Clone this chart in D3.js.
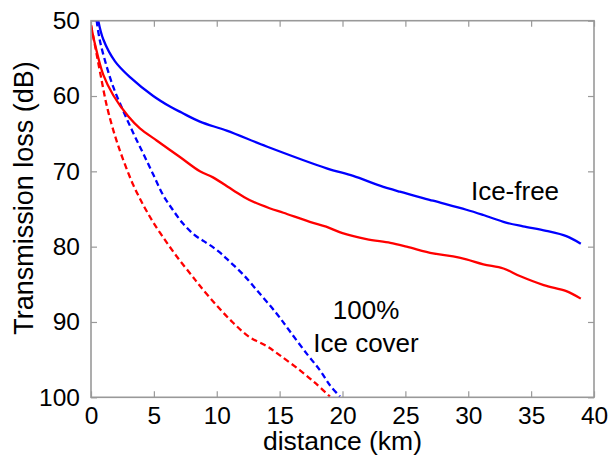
<!DOCTYPE html>
<html><head><meta charset="utf-8">
<script src="https://cdn.jsdelivr.net/npm/d3@7"></script>
<style>body{margin:0;background:#fff}svg{display:block}text{font-family:"Liberation Sans",Arial,sans-serif;fill:#000}</style>
</head><body>
<svg id="c" width="609" height="458"></svg>
<script>
const xTicks = [0,5,10,15,20,25,30,35,40];
const yTicks = [50,60,70,80,90,100];

const iceFreeD  = [0.58,0.98,1.91,3.1,4.95,6.28,7.2,8.66,10.79,13.97,18.74,20.85,22.97,24.56,27.2,29.85,31.2,33.0,34.35,36.2,37.8,38.95];
const iceFreeBlue = [50,52.5,55.4,57.5,60.0,61.4,62.2,63.4,64.6,66.7,69.6,70.6,71.9,72.7,73.9,75.1,75.8,76.8,77.3,77.9,78.6,79.6];

const iceFreeRedD = [0,0.3,0.98,1.77,2.96,3.89,5.22,7.07,8.66,9.7,11.3,12.6,14.2,15.3,17.4,18.7,20.0,21.9,23.8,25.1,27.2,28.8,29.85,31.2,32.8,34.1,36.0,37.8,38.95];
const iceFreeRed  = [50.6,53,57.2,59.9,62.7,64.3,65.9,68.1,70.0,70.8,72.5,73.8,74.9,75.5,76.7,77.35,78.2,79.0,79.5,80.0,80.9,81.3,81.7,82.35,82.9,83.9,85.1,85.9,86.9];

const iceBlueD = [0.45,0.7,1.25,1.77,2.57,3.36,4.2,5.0,5.75,6.5,7.3,8.2,9.0,9.72,10.4,11.04,12.1,13.4,14.77,15.8,17.15,18.2,19.0,19.8];
const iceBlue  = [50,52.6,56.1,58.8,62.0,64.9,67.8,70.6,73.2,75.1,76.9,78.4,79.3,80.1,81.0,82.0,83.7,86.2,88.9,91.2,94.2,96.4,98.4,99.9];

const iceRedD = [0,0.34,0.74,1.27,1.93,2.57,3.36,4.2,5.0,6.0,7.0,8.0,8.66,9.99,11.3,12.6,13.97,15.0,16.6,17.9,19.0];
const iceRed  = [50.6,53.5,57,61.4,65.4,68.5,71.8,74.6,76.9,79.4,81.7,83.8,85.2,87.8,90.1,92.0,93.2,94.4,96.4,98.2,99.9];

const svg = d3.select("#c");
const L=91, R=594, T=20.7, B=397.3;
const x = d3.scaleLinear().domain([0,40]).range([L,R]);
const y = d3.scaleLinear().domain([50,100]).range([T,B]);

const axCol = "#999";
const fs = 24.5;
const tk = 6;
const g = svg.append("g");
g.append("g").attr("transform",`translate(0,${B})`)
  .call(d3.axisBottom(x).tickValues(xTicks).tickSize(-tk).tickPadding(tk+3).tickFormat(d3.format("d")))
  .call(a=>{a.select(".domain").remove();a.selectAll("line").attr("stroke",axCol).attr("stroke-width",1.2);
    a.selectAll("text").attr("font-size",fs).attr("fill","#000").attr("font-family","Liberation Sans, Arial, sans-serif");});
g.append("g").attr("transform",`translate(0,${T})`)
  .call(d3.axisTop(x).tickValues(xTicks).tickSize(-tk).tickFormat(""))
  .call(a=>{a.select(".domain").remove();a.selectAll("line").attr("stroke",axCol).attr("stroke-width",1.2);});
g.append("g").attr("transform",`translate(${L},0)`)
  .call(d3.axisLeft(y).tickValues(yTicks).tickSize(-tk).tickPadding(tk+5).tickFormat(d3.format("d")))
  .call(a=>{a.select(".domain").remove();a.selectAll("line").attr("stroke",axCol).attr("stroke-width",1.2);
    a.selectAll("text").attr("font-size",fs).attr("fill","#000").attr("font-family","Liberation Sans, Arial, sans-serif");});
g.append("g").attr("transform",`translate(${R},0)`)
  .call(d3.axisRight(y).tickValues(yTicks).tickSize(-tk).tickFormat(""))
  .call(a=>{a.select(".domain").remove();a.selectAll("line").attr("stroke",axCol).attr("stroke-width",1.2);});

const clipId="clp";
svg.append("clipPath").attr("id",clipId).append("rect").attr("x",L).attr("y",T).attr("width",R-L).attr("height",B-T);
const line = d3.line().x(d=>x(d[0])).y(d=>y(d[1])).curve(d3.curveCatmullRom.alpha(0.5));
function draw(xs, ys, col, dash){
  svg.append("path").datum(xs.map((v,i)=>[v,ys[i]]))
    .attr("d",line).attr("fill","none").attr("stroke",col).attr("stroke-width",2.3)
    .attr("stroke-linejoin","round")
    .attr("clip-path",`url(#${clipId})`)
    .attr("stroke-dasharray",dash?"6,3.5":null);
}
draw(iceRedD, iceRed, "#ff0000", true);
draw(iceBlueD, iceBlue, "#0000ff", true);
draw(iceFreeRedD, iceFreeRed, "#ff0000", false);
draw(iceFreeD, iceFreeBlue, "#0000ff", false);

svg.append("rect").attr("x",L).attr("y",T).attr("width",R-L).attr("height",B-T)
  .attr("fill","none").attr("stroke",axCol).attr("stroke-width",1.6);

svg.append("text").attr("x",(L+R)/2).attr("y",450).attr("text-anchor","middle").attr("font-size",26.5).text("distance (km)");
svg.append("text").attr("transform",`translate(33,198) rotate(-90)`).attr("text-anchor","middle").attr("font-size",27).text("Transmission loss (dB)");

svg.append("text").attr("x",515).attr("y",200).attr("text-anchor","middle").attr("font-size",26).text("Ice-free");
svg.append("text").attr("x",366).attr("y",319).attr("text-anchor","middle").attr("font-size",26).text("100%");
svg.append("text").attr("x",366).attr("y",352).attr("text-anchor","middle").attr("font-size",26).text("Ice cover");
</script>
</body></html>
